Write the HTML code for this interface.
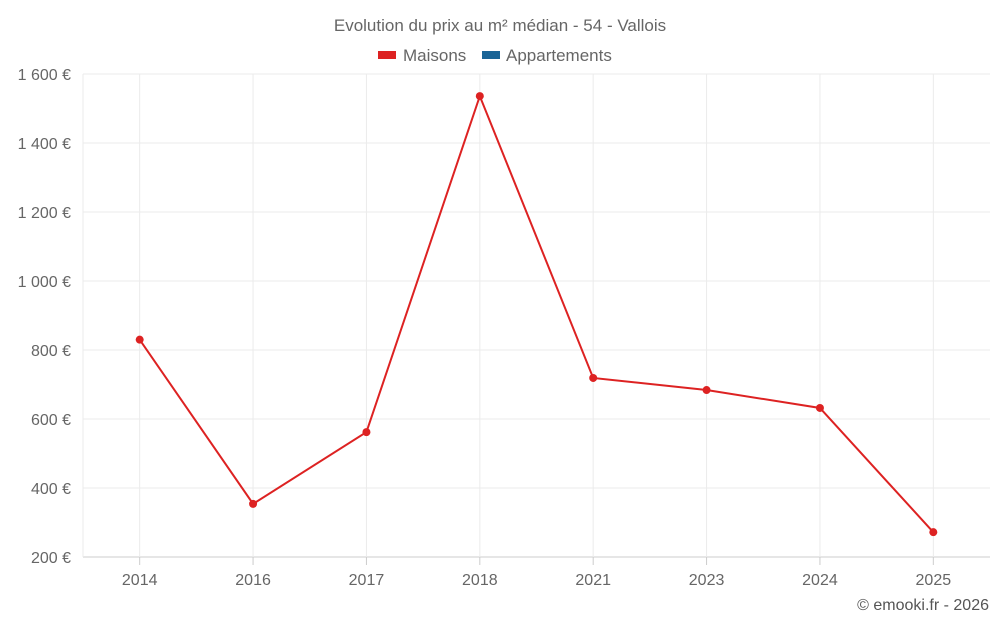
<!DOCTYPE html>
<html><head><meta charset="utf-8">
<style>
html,body{margin:0;padding:0;background:#fff;}
svg{display:block;font-family:"Liberation Sans",sans-serif;}
</style></head>
<body>
<svg id="chart" width="1000" height="625">
<text x="500" y="31" text-anchor="middle" font-size="17" fill="#666">Evolution du prix au m² médian - 54 - Vallois</text>
<g>
<g>
<rect x="378" y="51" width="18" height="8" fill="#dd2222"></rect>
<text x="403" y="61" font-size="17" fill="#666">Maisons</text></g>
<g>
<rect x="482" y="51" width="18" height="8" fill="#1a6496"></rect>
<text x="506" y="61" font-size="17" fill="#666">Appartements</text></g>
</g>
<g id="grid"></g><g id="axes"></g><g id="series"></g>
<text x="989" y="610" text-anchor="end" font-size="16" fill="#555">© emooki.fr - 2026</text>
</svg>
<script>
const categories=["2014","2016","2017","2018","2021","2023","2024","2025"];
const maisons=[830,354,562,1536,719,684,632,272];
const yTicks=[200,400,600,800,1000,1200,1400,1600];
const yTickLabels=["200 €","400 €","600 €","800 €","1 000 €","1 200 €","1 400 €","1 600 €"];
const L=83,R=990,T=74,B=557,yMin=200,yMax=1600;
const bw=(R-L)/categories.length;
const x=i=>L+bw*(i+0.5);
const y=v=>B-(v-yMin)/(yMax-yMin)*(B-T);
const NS="http://www.w3.org/2000/svg";
const grid=document.getElementById('grid'),axes=document.getElementById('axes'),ser=document.getElementById('series');
function mk(t,a,p){const e=document.createElementNS(NS,t);for(const k in a)e.setAttribute(k,a[k]);p.appendChild(e);return e;}
yTicks.forEach((v,i)=>{
 const g=mk('line',{x1:L,x2:R,y1:y(v),y2:y(v),stroke:i===0?'#ccc':'#ebebeb','stroke-width':1},grid);
 
 
 const t=mk('text',{x:71,y:y(v)+6,'text-anchor':'end','font-size':16,fill:'#666'},axes);
 t.textContent=yTickLabels[i];
 
 
});
mk('line',{x1:L,x2:L,y1:T,y2:B,stroke:'#ebebeb'},grid);
categories.forEach((c,i)=>{
 const g=mk('line',{x1:x(i),x2:x(i),y1:T,y2:B,stroke:'#ebebeb'},grid);
 
 
 mk('line',{x1:x(i),x2:x(i),y1:B,y2:B+8,stroke:'#ccc'},grid);
 const t=mk('text',{x:x(i),y:585,'text-anchor':'middle','font-size':16,fill:'#666'},axes);
 t.textContent=c;
 
 
});
const p=mk('polyline',{points:maisons.map((v,i)=>x(i)+','+y(v)).join(' '),fill:'none',stroke:'#dd2222','stroke-width':2},ser);


maisons.forEach((v,i)=>{
 const c=mk('circle',{cx:x(i),cy:y(v),r:4,fill:'#dd2222'},ser);
 
 
});
</script>
</body></html>
